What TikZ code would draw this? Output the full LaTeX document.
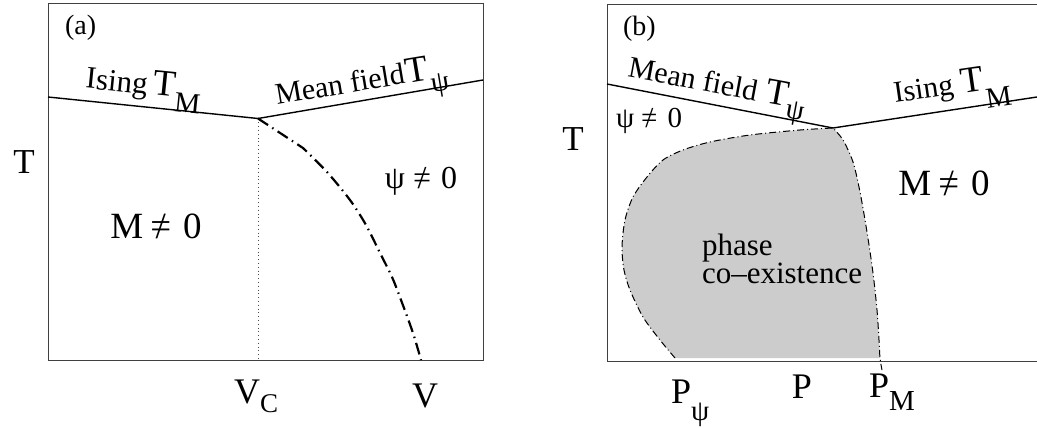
\documentclass[tikz,border=0pt]{standalone}
\usepackage{fontspec}
\setmainfont{Liberation Serif}
\newcommand\myfs[1]{\fontsize{#1}{#1}\selectfont}
\newcommand\myneq{\ooalign{\hfil/\hfil\cr=}}
\begin{document}
\begin{tikzpicture}[x=1pt,y=-1pt,
  frame/.style={draw=black!75, line width=1pt},
  bound/.style={draw=black, line width=1.4pt},
  dd/.style={draw=black, line width=2.2pt, dash pattern=on 12pt off 5pt on 1.5pt off 5pt},
  ddthin/.style={draw=black, line width=1pt, dash pattern=on 7pt off 3pt on 1pt off 3pt},
  dots/.style={draw=black!70, line width=0.8pt, dash pattern=on 0.8pt off 3pt},
  txt/.style={inner sep=0pt, outer sep=0pt, anchor=base}]
\useasboundingbox (0,0) rectangle (1037,428);

% ---------------- panel (a)
\node[frame, draw, inner sep=0pt, minimum width=435pt, minimum height=357pt, anchor=north west] (boxa) at (48,3) {};
\coordinate (aL) at (48,97);
\coordinate (aC) at (258,118.5);
\coordinate (aR) at (483,80);
\coordinate (aB) at (258,360);
\draw[bound] (aL) -- (aC) -- (aR);
\draw[dots] (aC) -- (aB);
\draw[dd] (aC) -- (303,148) -- plot[smooth] coordinates {(303,148) (327,172) (350,200) (366,225) (380,253) (392,277) (401,300) (413,333) (421,360)};

\node[txt, anchor=base west] (la) at (65,35) {\myfs{28}(a)};
\node[txt, anchor=base west, rotate=-5.7] (isa) at (85,88) {\myfs{31}Ising\hspace{6pt}\myfs{37}T\raisebox{-15pt}{\myfs{29}M}};
\node[txt, anchor=base west, rotate=9.5] (mfa) at (277,105) {\myfs{30}Mean field\hspace{2pt}\myfs{37}T\raisebox{-13pt}{\myfs{29}ψ}};
\node[txt] (Ta) at (24,173) {\myfs{35}T};
\node[txt] (Ma) at (156,238) {\myfs{37}M\hspace{7pt}\myneq\hspace{12pt}0};
\node[txt] (psia) at (421,188) {\myfs{32}ψ\hspace{8pt}\myneq\hspace{10pt}0};
\node[txt, anchor=base west] (Vc) at (234,403) {\myfs{36}V\raisebox{-9pt}{\myfs{27}C}};
\node[txt] (Va) at (425,407) {\myfs{36}V};

% ---------------- panel (b)
\draw[frame] (1038,5) -- (607,5) -- (607,361) -- (1038,361);
\coordinate (bL) at (607,84);
\coordinate (bC) at (833,128);
\coordinate (bR) at (1037,97);
\fill[black!20] (675,358) -- plot[smooth] coordinates {(675,358) (660,340) (643,317) (630,290) (624,270) (622,247) (625,220) (633,197) (647,177) (663,160) (683,150) (710,142) (750,135) (800,130) (833,128)}
  -- plot[smooth] coordinates {(833,128) (843,140) (853,162) (860,192) (867,232) (873,273) (877,310) (879,340) (880,358)} -- cycle;
\draw[ddthin] (675,358) -- plot[smooth] coordinates {(675,358) (660,340) (643,317) (630,290) (624,270) (622,247) (625,220) (633,197) (647,177) (663,160) (683,150) (710,142) (750,135) (800,130) (833,128)}
  -- plot[smooth] coordinates {(833,128) (843,140) (853,162) (860,192) (867,232) (873,273) (877,310) (879,340) (880,358) (882,370)};
\draw[bound] (bL) -- (bC) -- (bR);

\node[txt, anchor=base west] (lb) at (623,36) {\myfs{28}(b)};
\node[txt, anchor=base west, rotate=-10.5] (mfb) at (627,77) {\myfs{30}Mean field\hspace{9pt}\myfs{37}T\raisebox{-11pt}{\myfs{29}ψ}};
\node[txt, anchor=base west, rotate=8.2] (isb) at (895,103) {\myfs{30}Ising\hspace{8pt}\myfs{37}T\raisebox{-19pt}{\myfs{29}M}};
\node[txt] (Tb) at (573,150) {\myfs{35}T};
\node[txt] (psib) at (649,128) {\myfs{29}ψ\hspace{7pt}\myneq\hspace{10pt}0};
\node[txt] (Mb) at (944,195) {\myfs{37}M\hspace{7pt}\myneq\hspace{12pt}0};
\node[txt, anchor=base west] (ph) at (702,255) {\myfs{31}phase};
\node[txt, anchor=base west] (co) at (702,283) {\myfs{31}co–existence};
\node[txt, anchor=base west] (Ppsi) at (671,403) {\myfs{36}P\raisebox{-17pt}{\myfs{29}ψ}};
\node[txt] (Pb) at (802,398) {\myfs{36}P};
\node[txt, anchor=base west] (PM) at (869,397) {\myfs{36}P\raisebox{-13pt}{\myfs{29}M}};
\end{tikzpicture}
\end{document}
